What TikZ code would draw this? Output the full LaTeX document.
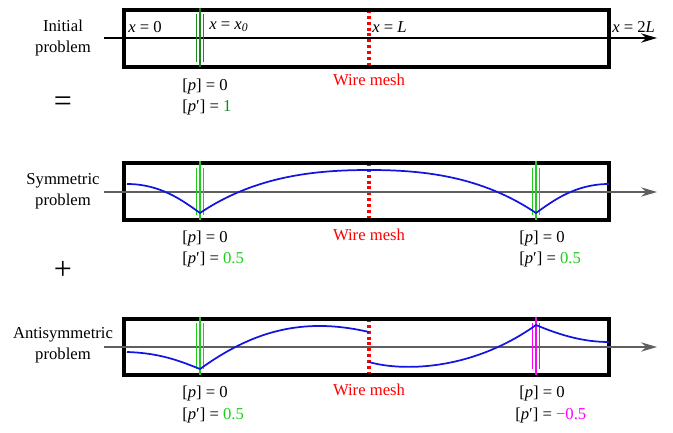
\documentclass[tikz,border=0pt]{standalone}
\usepackage{fontspec}
\setmainfont{Liberation Serif}
\usepackage{xcolor}
\usetikzlibrary{arrows.meta, positioning}

\definecolor{darkgreen}{RGB}{25,135,25}
\definecolor{lightgreen}{RGB}{30,205,30}
\definecolor{wavecol}{RGB}{20,20,225}
\definecolor{axisgray}{RGB}{95,95,95}
\definecolor{pinkish}{RGB}{255,0,255}

\tikzset{
    chamber/.style={line width=2.8pt},
    axisline/.style={line width=0.9pt, -{Stealth[length=12pt, width=7pt, inset=4pt]}},
    wallthick/.style={line width=2.2pt},
    wallthin/.style={line width=0.8pt},
    meshline/.style={red, line width=2.6pt, dash pattern=on 2.2pt off 2.2pt},
    wave/.style={wavecol, line width=1.3pt},
    txt/.style={font=\fontsize{12.5}{15.75}\selectfont, inner sep=0pt},
    side/.style={txt, align=center},
    bigsign/.style={font=\fontsize{24}{24}\selectfont, inner sep=0pt},
}

\begin{document}
\begin{tikzpicture}[x=0.75pt, y=-0.75pt]
    \useasboundingbox (0,0) rectangle (673,432);

    % Ba ống: bài toán ban đầu, đối xứng, phản đối xứng
    \foreach \top/\bot in {10/67, 163/220, 319/375} {
        \draw[meshline] (369,\top) -- (369,\bot);      % lưới thép ở x = L
        \draw[chamber] (124,\top) rectangle (609,\bot);
    }

    % ---------- Bài toán ban đầu ----------
    \coordinate (a1s) at (104,38);
    \coordinate (a1e) at (657,38);
    \draw[axisline] (a1s) -- (a1e);
    \draw[wallthick, darkgreen] (200,8) -- (200,67);
    \draw[wallthin, darkgreen] (196.5,14) -- (196.5,62) (203.5,14) -- (203.5,62);

    \node[side] (initial) at (63,37.5) {Initial\\problem};
    \node[txt, anchor=west] (xzero) at (128,27) {\textit{x} = 0};
    \node[txt, anchor=west] (xsrc) at (209,27) {\textit{x} = \textit{x}\textsubscript{\textit{0}}};
    \node[txt, anchor=west] (xmesh) at (372,27) {\textit{x} = \textit{L}};
    \node[txt, anchor=west] (xend) at (612,27) {\textit{x} = 2\textit{L}};
    \node[txt, red] (meshA) at (369,80) {Wire mesh};
    \node[txt, anchor=west] (jumpA) at (182,86) {[\textit{p}] = 0};
    \node[txt, anchor=west] (derivA) at (182,107) {[\textit{p}′] = {\color{darkgreen}1}};
    \node[bigsign] (equal) at (63,104) {=};

    % ---------- Bài toán đối xứng ----------
    \coordinate (a2s) at (104,192);
    \coordinate (a2e) at (657,192);
    \draw[axisline, axisgray] (a2s) -- (a2e);
    \foreach \xs in {200, 536} {
        \draw[wallthick, lightgreen] (\xs,161) -- (\xs,220);
        \draw[wallthin, lightgreen] (\xs-3.5,168) -- (\xs-3.5,215) (\xs+3.5,168) -- (\xs+3.5,215);
    }
    \draw[wave] (127,184) .. controls (160,184) and (182,200) .. (200,213)
        .. controls (255,176) and (315,170) .. (369,170)
        .. controls (423,170) and (481,176) .. (536,213)
        .. controls (554,200) and (576,184) .. (609,184);

    \node[side] (symm) at (63,191) {Symmetric\\problem};
    \node[txt, red] (meshB) at (369,235) {Wire mesh};
    \node[txt, anchor=west] (jumpB) at (182,238) {[\textit{p}] = 0};
    \node[txt, anchor=west] (derivB) at (182,259) {[\textit{p}′] = {\color{lightgreen}0.5}};
    \node[txt, anchor=west] (jumpC) at (519,238) {[\textit{p}] = 0};
    \node[txt, anchor=west] (derivC) at (519,259) {[\textit{p}′] = {\color{lightgreen}0.5}};
    \node[bigsign] (plus) at (63,270) {+};

    % ---------- Bài toán phản đối xứng ----------
    \coordinate (a3s) at (104,347);
    \coordinate (a3e) at (657,347);
    \draw[axisline, axisgray] (a3s) -- (a3e);
    \draw[wallthick, lightgreen] (200,317) -- (200,375);
    \draw[wallthin, lightgreen] (196.5,323) -- (196.5,369) (203.5,323) -- (203.5,369);
    \draw[wallthick, pinkish] (536,317) -- (536,375);
    \draw[wallthin, pinkish] (532.5,323) -- (532.5,369) (539.5,323) -- (539.5,369);
    \draw[wave] (127,352) .. controls (160,353) and (180,361) .. (200,369)
        .. controls (250,333) and (300,316) .. (369,332);
    \draw[wave] (369,362) .. controls (400,371) and (470,372) .. (536,325)
        .. controls (562,336) and (585,342) .. (609,342);

    \node[side] (antisymm) at (63,345.5) {Antisymmetric\\problem};
    \node[txt, red] (meshC) at (369,390) {Wire mesh};
    \node[txt, anchor=west] (jumpD) at (182,393) {[\textit{p}] = 0};
    \node[txt, anchor=west] (derivD) at (182,415) {[\textit{p}′] = {\color{lightgreen}0.5}};
    \node[txt, anchor=west] (jumpE) at (519,393) {[\textit{p}] = 0};
    \node[txt, anchor=west] (derivE) at (515,415) {[\textit{p}′] = {\color{pinkish}−0.5}};
\end{tikzpicture}
\end{document}
